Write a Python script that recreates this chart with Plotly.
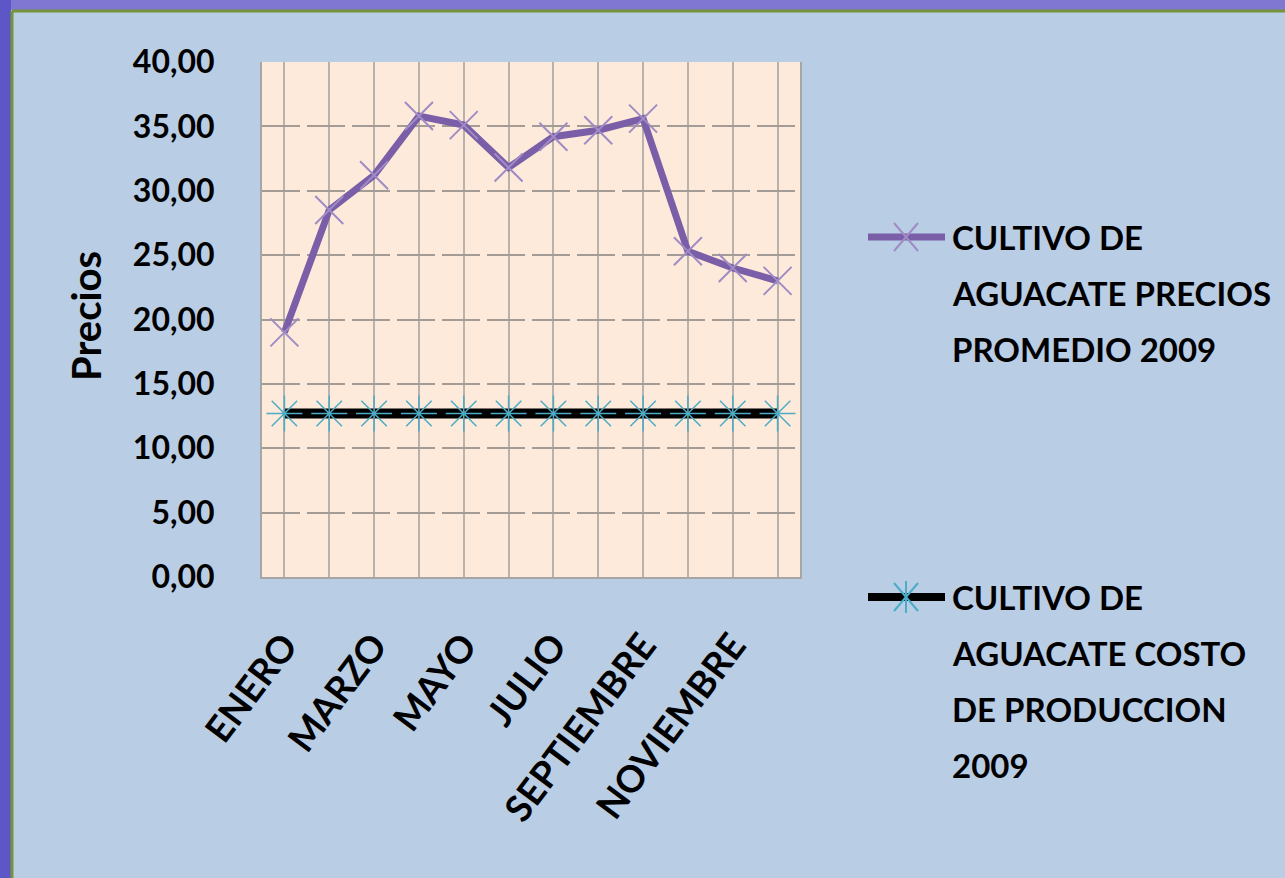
import plotly.graph_objects as go

meses = ["ENERO", "FEBRERO", "MARZO", "ABRIL", "MAYO", "JUNIO",
         "JULIO", "AGOSTO", "SEPTIEMBRE", "OCTUBRE", "NOVIEMBRE", "DICIEMBRE"]
precios_promedio = [19.0, 28.5, 31.2, 35.8, 35.1, 31.8, 34.2, 34.7, 35.6, 25.3, 24.0, 23.0]
costo_produccion = [12.7] * 12

nombre_precios = ["CULTIVO DE", "AGUACATE PRECIOS", "PROMEDIO 2009"]
nombre_costo = ["CULTIVO DE", "AGUACATE COSTO", "DE PRODUCCION", "2009"]

W, H = 1285, 878
FONT = "Lato"


def px(x):
    return x / W


def py(y):
    return 1 - y / H


fig = go.Figure()

fig.add_trace(go.Scatter(
    x=meses, y=precios_promedio, mode="lines+markers",
    line=dict(color="#7B5EA8", width=7),
    marker=dict(symbol="x-thin-open", size=28, color="#A08CC4",
                line=dict(color="#A08CC4", width=2)),
))
fig.add_trace(go.Scatter(
    x=meses, y=costo_produccion, mode="lines+markers",
    line=dict(color="#000000", width=10),
    marker=dict(symbol="asterisk-open", size=30, color="#4BACC6",
                line=dict(color="#4BACC6", width=1.5)),
))

shapes = [
    # slide background strips and chart-area border
    dict(type="rect", xref="paper", yref="paper", x0=0, x1=1, y0=py(10), y1=1,
         fillcolor="#7F77D2", line_width=0),
    dict(type="rect", xref="paper", yref="paper", x0=0, x1=px(11), y0=0, y1=1,
         fillcolor="#5C56C6", line_width=0),
    dict(type="line", xref="paper", yref="paper", x0=px(12), x1=1.01, y0=py(11), y1=py(11),
         line=dict(color="#77933C", width=3)),
    dict(type="line", xref="paper", yref="paper", x0=px(12), x1=px(12), y0=-0.01, y1=py(11),
         line=dict(color="#77933C", width=3)),
]


def legend_sample(yc, line_color, line_w, mark_color, arms):
    out = [dict(type="line", xref="paper", yref="paper", x0=px(868), x1=px(945),
                y0=py(yc), y1=py(yc), line=dict(color=line_color, width=line_w))]
    for dx, dy in arms:
        out.append(dict(type="line", xref="paper", yref="paper",
                        x0=px(906 - dx), x1=px(906 + dx), y0=py(yc - dy), y1=py(yc + dy),
                        line=dict(color=mark_color, width=2)))
    return out


shapes += legend_sample(237, "#7B5EA8", 7, "#A08CC4", [(12, 14), (12, -14)])
shapes += legend_sample(597, "#000000", 8, "#4BACC6", [(12, 14), (12, -14), (0, 16)])

annotations = [dict(text="Precios", x=px(86), y=py(316), xref="paper", yref="paper",
                    xanchor="center", yanchor="middle", textangle=-90, showarrow=False,
                    font=dict(family=FONT, size=40, color="black", weight="bold"))]
for lineas, y0 in [(nombre_precios, 237), (nombre_costo, 597)]:
    for i, t in enumerate(lineas):
        annotations.append(dict(text=t, x=px(950), y=py(y0 + i * 56), xref="paper", yref="paper",
                                xanchor="left", yanchor="middle", showarrow=False,
                                font=dict(family=FONT, size=33, color="black", weight="bold")))

fig.update_layout(
    width=W, height=H,
    margin=dict(l=0, r=0, t=0, b=0),
    paper_bgcolor="#B9CDE5",
    plot_bgcolor="#FDEADA",
    showlegend=False,
    separators=",.",
    shapes=shapes,
    annotations=annotations,
    xaxis=dict(
        domain=[px(262), px(800)],
        type="category",
        range=[-0.5, len(meses) - 0.5],
        tickvals=meses,
        ticktext=[m if i % 2 == 0 else "" for i, m in enumerate(meses)],
        tickangle=-53,
        tickfont=dict(family=FONT, size=37, color="black", weight="bold"),
        showgrid=True, gridcolor="#B8B2AC", gridwidth=1.5,
        showline=True, linecolor="#A6A6A6", linewidth=2,
        ticks="", ticklabelstandoff=30, ticklabelshift=0,
        automargin=False,
    ),
    yaxis=dict(
        domain=[py(577), py(62)],
        range=[0, 40], dtick=5, tickformat=".2f",
        tickfont=dict(family=FONT, size=32, color="black", weight="bold"),
        showgrid=True, gridcolor="#A39C96", gridwidth=2, griddash="38px,7px",
        zeroline=False,
        showline=True, linecolor="#A6A6A6", linewidth=2, mirror=True,
        ticks="", ticklabelstandoff=39,
        automargin=False,
    ),
)

fig.write_html("out.html", config={"displayModeBar": False},
               post_script="document.body.style.margin='0px';"
                           "document.body.style.background='#7F77D2';")
